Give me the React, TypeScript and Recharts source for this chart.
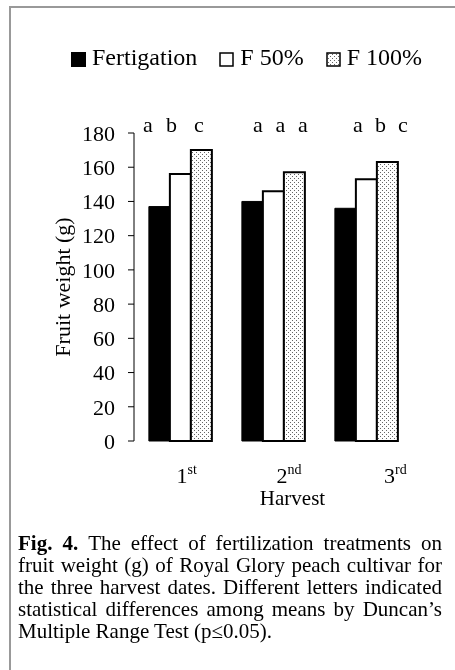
import React from 'react';
import { BarChart, Bar, XAxis, YAxis, Legend, LabelList, Label } from 'recharts';

const harvests = ['1st', '2nd', '3rd'];
const fertigation = [137, 140, 136];
const f50 = [156, 146, 153];
const f100 = [170, 157, 163];
const fertigationLetters = ['a', 'a', 'a'];
const f50Letters = ['b', 'a', 'b'];
const f100Letters = ['c', 'a', 'c'];
const yTicks = [0, 20, 40, 60, 80, 100, 120, 140, 160, 180];
const edgeTicks = [0, 1, 2, 3];
const seriesNames = ['Fertigation', 'F 50%', 'F 100%'];
const captionLines = [
  ['Fig. 4.', 'The effect of fertilization treatments on'],
  ['', 'fruit weight (g) of Royal Glory peach cultivar for'],
  ['', 'the three harvest dates. Different letters indicated'],
  ['', 'statistical differences among means by Duncan’s'],
  ['', 'Multiple Range Test (p≤0.05).'],
];

const data = harvests.map((h, i) => ({
  harvest: h,
  fertigation: fertigation[i],
  f50: f50[i],
  f100: f100[i],
  lf: fertigationLetters[i],
  l50: f50Letters[i],
  l100: f100Letters[i],
}));

const FONT = '"Liberation Serif", "Times New Roman", Times, serif';
const GROUP_SHIFT = [-9, 7, 14];
const SERIES_SPREAD = [[-1, 0, 5], [0, 0, 0], [0, 0, 0]];
const TICK_SHIFT = [1.5, 8.5, 23];
const LETTER_BASELINE = 132;

const makeLetter = (seriesIdx: number) => (props: any) => {
  const { x, width, value, index } = props;
  const cx = Number(x) + Number(width) / 2 + (seriesIdx - 1) * 1.6 + GROUP_SHIFT[index] + SERIES_SPREAD[index][seriesIdx];
  return (
    <text x={cx} y={LETTER_BASELINE} textAnchor="middle" fontFamily={FONT} fontSize={22} fill="#000">
      {value}
    </text>
  );
};

const HarvestTick = (props: any) => {
  const { x, payload, index } = props;
  const label: string = String(payload.value);
  const m = label.match(/^(\d+)(.*)$/);
  const num = m ? m[1] : label;
  const sup = m ? m[2] : '';
  const sx = Number(x) + TICK_SHIFT[index] - 5.5;
  return (
    <text x={sx} y={483} textAnchor="start" fontFamily={FONT} fontSize={22} fill="#000">
      {num}
      <tspan fontSize={14} dy={-9}>{sup}</tspan>
    </text>
  );
};

const swatch = (i: number) => {
  if (i === 0) return <rect x={0} y={0} width={15} height={15} fill="#000" />;
  if (i === 1) return <rect x={1} y={1} width={13} height={13} fill="#fff" stroke="#000" strokeWidth={1.5} />;
  return <rect x={1} y={1} width={13} height={13} fill="url(#dots)" stroke="#000" strokeWidth={1.5} />;
};

const LegendContent = () => (
  <div style={{ display: 'flex', alignItems: 'center', fontFamily: FONT, fontSize: 24, color: '#000', whiteSpace: 'nowrap' }}>
    {seriesNames.map((n, i) => (
      <div key={n} style={{ display: 'flex', alignItems: 'center', marginRight: i < 2 ? 22 : 0 }}>
        <svg width={15} height={15} style={{ marginTop: 4 }}>{swatch(i)}</svg>
        <span style={{ marginLeft: 6 }}>{n}</span>
      </div>
    ))}
  </div>
);

const YLabel = () => (
  <text x={63} y={287} dy={7} transform="rotate(-90, 63, 287)" textAnchor="middle" fontFamily={FONT} fontSize={22} fill="#000">
    Fruit weight (g)
  </text>
);

const XLabel = (props: any) => {
  const vb = props.viewBox || {};
  return (
    <text x={vb.x + vb.width / 2 + 19} y={505} textAnchor="middle" fontFamily={FONT} fontSize={21} fill="#000">
      Harvest
    </text>
  );
};

export default function App() {
  return (
    <div style={{ position: 'relative', width: 455, height: 670 }}>
      <svg width={0} height={0} style={{ position: 'absolute' }}>
        <defs>
          <pattern id="dots" width={4} height={4} patternUnits="userSpaceOnUse">
            <rect width={4} height={4} fill="#fff" />
            <rect x={0} y={0} width={1} height={1} fill="#666" />
            <rect x={2} y={2} width={1} height={1} fill="#666" />
          </pattern>
        </defs>
      </svg>
      <div style={{ position: 'fixed', left: 9, top: 6, width: 446, height: 664, borderLeft: '2px solid #999', borderTop: '2px solid #999', boxSizing: 'border-box' }} />
      <div style={{ position: 'fixed', left: 0, top: 0 }}>
        <BarChart width={455} height={520} data={data} margin={{ top: 133, right: 42, bottom: 9, left: 0 }} barCategoryGap="16%" barGap={0}>
          <XAxis xAxisId="edges" type="number" domain={[0, 3]} ticks={edgeTicks} allowDataOverflow tick={false} tickSize={6} height={0} stroke="#000" />
          <XAxis xAxisId="cat" dataKey="harvest" axisLine={false} tickLine={false} height={70} tick={<HarvestTick />} interval={0}>
            <Label content={<XLabel />} />
          </XAxis>
          <YAxis domain={[0, 180]} ticks={yTicks} width={134} tickSize={6} tickMargin={13} stroke="#000" interval={0}
            tick={{ fontFamily: FONT, fontSize: 22, fill: '#000' }}>
            <Label content={<YLabel />} />
          </YAxis>
          <Legend verticalAlign="middle" align="center" layout="horizontal" content={<LegendContent />} wrapperStyle={{ left: 71, top: 44, width: 'auto' }} />
          <Bar xAxisId="cat" dataKey="fertigation" name="Fertigation" fill="#000" stroke="#000" isAnimationActive={false}>
            <LabelList dataKey="lf" content={makeLetter(0)} />
          </Bar>
          <Bar xAxisId="cat" dataKey="f50" name="F 50%" fill="#fff" stroke="#000" strokeWidth={2} isAnimationActive={false}>
            <LabelList dataKey="l50" content={makeLetter(1)} />
          </Bar>
          <Bar xAxisId="cat" dataKey="f100" name="F 100%" fill="url(#dots)" stroke="#000" strokeWidth={2} isAnimationActive={false}>
            <LabelList dataKey="l100" content={makeLetter(2)} />
          </Bar>
        </BarChart>
      </div>
      <div style={{ position: 'fixed', left: 18, top: 532, width: 424, fontFamily: FONT, fontSize: 21, lineHeight: '22px', color: '#000' }}>
        {captionLines.map(([bold, rest], i) => (
          <div key={i} style={{ textAlign: 'justify', textAlignLast: i < captionLines.length - 1 ? 'justify' : 'left', height: 22, whiteSpace: 'nowrap' as any }}>
            {bold ? <b style={{ marginRight: 10 }}>{bold}</b> : null}
            <span>{rest}</span>
          </div>
        ))}
      </div>
    </div>
  );
}
